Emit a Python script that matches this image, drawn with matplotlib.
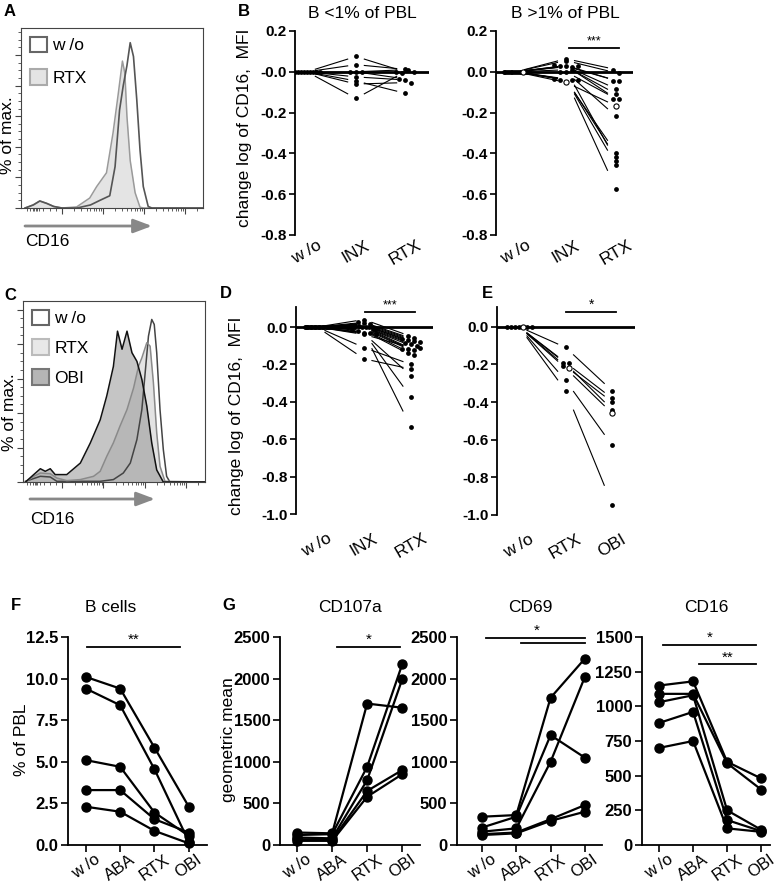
import numpy as np
import matplotlib
matplotlib.use("Agg")
import matplotlib.pyplot as plt
from matplotlib.patches import Patch

plt.rcParams['font.family'] = ['Liberation Sans', 'DejaVu Sans']

W, H = 778, 884

# ---------------- data ----------------
# A: CD16 histograms (x in decades, y in % of max)
a_wo_x = [0.1, 0.3, 0.46, 0.63, 0.8, 1.0, 1.37, 1.7, 1.93, 2.17, 2.30, 2.41, 2.50, 2.59, 2.67, 2.75, 2.83, 2.91, 2.99, 3.11, 3.2, 4.45]
a_wo_h = [0, 2, 4.6, 3, 1, 0, 0, 2, 5, 8, 27, 64, 80, 93, 108, 99, 71, 38, 14, 1, 0, 0]
a_rtx_x = [0.1, 0.3, 0.46, 0.63, 0.8, 1.0, 1.36, 1.68, 1.85, 2.09, 2.25, 2.37, 2.48, 2.54, 2.59, 2.67, 2.79, 2.91, 3.0, 4.45]
a_rtx_h = [0, 2, 4.5, 3, 1, 0, 0.7, 6.5, 14, 23, 49, 73, 96, 88, 60, 31, 10, 0.5, 0, 0]

# C: CD16 histograms
c_wo_x = [0.11, 0.47, 0.71, 0.87, 1.92, 2.24, 2.48, 2.65, 2.81, 2.93, 3.01, 3.09, 3.17, 3.23, 3.29, 3.37, 3.45, 3.53, 3.61, 4.46]
c_wo_h = [0.4, 3.3, 2.9, 0.4, 0.4, 1.4, 5.2, 11, 24.6, 42, 63.3, 84.6, 94.3, 91.4, 75, 42, 18.8, 3.3, 0, 0]
c_rtx_x = [0.11, 0.31, 0.47, 0.71, 0.87, 1.11, 1.44, 1.76, 1.92, 2.08, 2.24, 2.40, 2.57, 2.73, 2.85, 2.93, 3.05, 3.13, 3.21, 3.29, 3.37, 3.49, 4.46]
c_rtx_h = [0, 3.3, 5.2, 4.8, 2.3, 0.8, 1.4, 3.3, 6.2, 14.9, 22.7, 32.4, 42, 54.6, 67.2, 72, 80.8, 78.8, 57.5, 28.5, 9.1, 0.4, 0]
c_obi_x = [0.11, 0.31, 0.47, 0.59, 0.71, 0.83, 1.11, 1.44, 1.68, 1.92, 2.08, 2.24, 2.34, 2.45, 2.57, 2.69, 2.81, 2.93, 3.05, 3.17, 3.29, 3.45, 4.46]
c_obi_h = [0, 4.3, 7.7, 6.2, 7.7, 4.3, 4.3, 11, 22.6, 36, 50, 67, 87.5, 77, 87.5, 75, 70, 59.5, 44, 22.6, 7, 0, 0]

# B: change log of CD16 MFI (paired donors)
b1_labels = ['w /o', 'INX', 'RTX']
b1_wo = [0, 0, 0, 0, 0, 0, 0, 0, 0]
b1_inx = [0.075, 0.035, 0.0, 0.0, 0.0, -0.025, -0.045, -0.06, -0.13]
b1_rtx = [0.0, 0.012, -0.005, 0.01, -0.035, -0.04, -0.105, -0.053, 0.0]

b2_wo = [0] * 15
b2_inx = [0.064, 0.055, 0.031, 0.027, 0.027, 0.025, 0.03, 0.0, 0.0, -0.035, -0.038, -0.052, -0.038, -0.042, 0.01]
b2_rtx = [0.011, -0.005, -0.043, -0.083, -0.043, -0.108, -0.132, -0.132, -0.218, -0.419, -0.455, -0.167, -0.574, -0.396, -0.435]
b2_open = 11

# D
d_wo = [0] * 20
d_inx = [0.04, 0.025, 0.02, 0.015, 0.01, 0.01, 0.005, 0.0, 0.0, 0.0, -0.005, -0.01, -0.015, -0.02, -0.03, -0.03, -0.035, -0.04, -0.11, -0.17]
d_rtx = [-0.05, -0.06, -0.065, -0.07, -0.075, -0.08, -0.085, -0.09, -0.1, -0.115, -0.12, -0.125, -0.14, -0.15, -0.375, -0.535, -0.26, -0.11, -0.2, -0.225]

# E
e_labels = ['w /o', 'RTX', 'OBI']
e_wo = [0] * 7
e_rtx = [-0.11, -0.19, -0.195, -0.21, -0.22, -0.285, -0.34]
e_obi = [-0.34, -0.38, -0.44, -0.40, -0.46, -0.63, -0.945]
e_open = 4

# F / G
cats = ['w /o', 'ABA', 'RTX', 'OBI']
f_bcells = [[10.1, 9.4, 5.85, 2.3],
            [9.4, 8.4, 4.55, 0.2],
            [5.1, 4.7, 1.95, 0.55],
            [3.3, 3.3, 1.55, 0.75],
            [2.3, 2.0, 0.85, 0.1]]
g_cd107a = [[150, 140, 1700, 1650],
            [120, 130, 940, 2170],
            [90, 80, 780, 1990],
            [70, 60, 650, 900],
            [50, 50, 580, 850]]
g_cd69 = [[340, 360, 1770, 2240],
          [210, 340, 1320, 1050],
          [160, 200, 1000, 2020],
          [130, 150, 310, 480],
          [120, 140, 290, 400]]
g_cd16 = [[1150, 1180, 600, 480],
          [1090, 1090, 590, 400],
          [1030, 1080, 250, 110],
          [880, 960, 180, 100],
          [700, 750, 120, 95]]

# ---------------- helpers ----------------
fig = plt.figure(figsize=(W / 100, H / 100), dpi=100)


def px_axes(left, top, right, bottom):
    return fig.add_axes([left / W, 1 - bottom / H, (right - left) / W, (bottom - top) / H])


def ftext(x, y, s, **kw):
    kw.setdefault('va', 'center')
    kw.setdefault('ha', 'center')
    fig.text(x / W, 1 - y / H, s, **kw)


def histo_axes(ax, xlim, ylim):
    ax.set_xlim(*xlim)
    ax.set_ylim(*ylim)
    for s in ax.spines.values():
        s.set_linewidth(0.8)
        s.set_color('#444444')
    ax.set_yticks(np.arange(0, 101, 20))
    ax.set_yticks(np.arange(0, ylim[1], 5), minor=True)
    ax.set_xticks([1, 2, 3, 4])
    minor = [0.15, 0.22, 0.3, 0.33, 0.36, 0.4, 0.45, 0.55, 0.7, 0.85]
    for k in [1, 2, 3, 4]:
        minor += [k + np.log10(m) for m in range(2, 10) if k + np.log10(m) < xlim[1]]
    ax.set_xticks(minor, minor=True)
    ax.tick_params(which='major', direction='out', length=4, width=0.8, color='#444444',
                   labelleft=False, labelbottom=False)
    ax.tick_params(which='minor', direction='out', length=2, width=0.6, color='#444444')


def swarm(vals, row_h, step, max_w):
    vals = np.asarray(vals, dtype=float)
    rows = np.round(vals / row_h).astype(int)
    offs = np.zeros(len(vals))
    for r in np.unique(rows):
        idx = np.where(rows == r)[0]
        n = len(idx)
        if n > 1:
            s = min(step, max_w / (n - 1))
            offs[idx] = (np.arange(n) - (n - 1) / 2) * s
    return offs


def dot_panel(ax, groups, labels, xpx, ypx, xlim, ylim, yticks, ytl, open_idx=None, pad=2):
    trim = 0.17
    n = len(groups[0])
    for g in range(len(groups) - 1):
        for i in range(n):
            a, b = groups[g][i], groups[g + 1][i]
            ax.plot([g + trim, g + 1 - trim], [a + trim * (b - a), b - trim * (b - a)],
                    color='black', lw=0.8, zorder=2)
    ax.axhline(0, color='black', lw=2, zorder=1)
    for g, vals in enumerate(groups):
        offs = swarm(vals, 4.5 / ypx, 6 / xpx, 25 / xpx)
        xs = g + offs
        for i in range(n):
            if i == open_idx:
                ax.scatter(xs[i], vals[i], s=14, facecolor='white', edgecolor='black', lw=0.8, zorder=4)
            else:
                ax.scatter(xs[i], vals[i], s=12, color='black', lw=0, zorder=3)
    ax.set_xlim(*xlim)
    ax.set_ylim(*ylim)
    for s in ['top', 'right', 'bottom']:
        ax.spines[s].set_visible(False)
    ax.spines['left'].set_linewidth(1.3)
    ax.set_yticks(yticks)
    ax.set_yticklabels(ytl, fontweight='bold', fontsize=11)
    ax.tick_params(axis='y', direction='out', length=4, width=1.2, pad=2)
    ax.set_xticks(range(len(labels)))
    ax.set_xticklabels(labels, rotation=30, fontsize=12.5, ha='center')
    ax.tick_params(axis='x', length=0, pad=pad)


def sig(ax, x0, x1, y, s, fs=10):
    ax.plot([x0, x1], [y, y], color='black', lw=1.3, clip_on=False, zorder=5)
    ax.text((x0 + x1) / 2, y, s, ha='center', va='bottom', fontsize=fs, clip_on=False)


def line_panel(ax, donors, xlim, ylim, yticks, ytl):
    for d in donors:
        ax.plot(range(4), d, color='black', lw=1.6, marker='o', ms=6.5, zorder=3, clip_on=False)
    ax.set_xlim(*xlim)
    ax.set_ylim(*ylim)
    for s in ['top', 'right']:
        ax.spines[s].set_visible(False)
    for s in ['left', 'bottom']:
        ax.spines[s].set_linewidth(1.3)
    ax.set_yticks(yticks)
    ax.set_yticklabels(ytl, fontweight='bold', fontsize=12)
    ax.set_xticks(range(4))
    ax.set_xticklabels(cats, rotation=35, fontsize=12, ha='center')
    ax.tick_params(axis='y', direction='out', length=5, width=1.2, pad=2)
    ax.tick_params(axis='x', direction='out', length=5, width=1.2, pad=0)


# ---------------- A ----------------
ax_a = px_axes(21, 28, 203, 208)
ax_a.fill_between(a_wo_x, a_wo_h, color='white', lw=0)
ax_a.fill_between(a_rtx_x, a_rtx_h, color='#e4e4e4', lw=0)
ax_a.plot(a_rtx_x, a_rtx_h, color='#9a9a9a', lw=1.1)
ax_a.plot(a_wo_x, a_wo_h, color='#555555', lw=1.2)
histo_axes(ax_a, (0, 4.45), (0, 117.6))
ax_a.legend(handles=[Patch(facecolor='white', edgecolor='#666666', lw=1.5, label='w /o'),
                     Patch(facecolor='#e4e4e4', edgecolor='#aaaaaa', lw=1.5, label='RTX')],
            loc='upper left', frameon=False, fontsize=12.5, handlelength=1.0, handleheight=1.0,
            labelspacing=0.9, handletextpad=0.3, borderaxespad=0.3, borderpad=0.2)
ax_a.annotate('', xy=(152, H - 226), xytext=(25, H - 226), xycoords='figure pixels',
              arrowprops=dict(arrowstyle='-|>,head_length=0.8,head_width=0.3', color='#888888',
                              lw=2, mutation_scale=14, shrinkA=0, shrinkB=0))
ftext(25, 242, 'CD16', ha='left', fontsize=12.5)
ftext(8, 135, '% of max.', rotation=90, fontsize=12.5)
ftext(10, 12, 'A', fontsize=12, fontweight='bold')

# ---------------- C ----------------
ax_c = px_axes(23, 301, 205, 482)
ax_c.fill_between(c_rtx_x, c_rtx_h, color='#c8c8c8', alpha=0.5, lw=0)
ax_c.fill_between(c_obi_x, c_obi_h, color='#8c8c8c', alpha=0.5, lw=0)
ax_c.plot(c_wo_x, c_wo_h, color='#444444', lw=1.1)
ax_c.plot(c_rtx_x, c_rtx_h, color='#8a8a8a', lw=1.1)
ax_c.plot(c_obi_x, c_obi_h, color='#111111', lw=1.1)
histo_axes(ax_c, (0.05, 4.46), (0, 105))
ax_c.legend(handles=[Patch(facecolor='white', edgecolor='#666666', lw=1.5, label='w /o'),
                     Patch(facecolor='#e8e8e8', edgecolor='#bbbbbb', lw=1.5, label='RTX'),
                     Patch(facecolor='#b5b5b5', edgecolor='#777777', lw=1.5, label='OBI')],
            loc='upper left', frameon=False, fontsize=12.5, handlelength=1.0, handleheight=1.0,
            labelspacing=0.75, handletextpad=0.3, borderaxespad=0.3, borderpad=0.2)
ax_c.annotate('', xy=(155, H - 499), xytext=(30, H - 499), xycoords='figure pixels',
              arrowprops=dict(arrowstyle='-|>,head_length=0.8,head_width=0.3', color='#888888',
                              lw=2, mutation_scale=14, shrinkA=0, shrinkB=0))
ftext(30, 519, 'CD16', ha='left', fontsize=12.5)
ftext(10, 412, '% of max.', rotation=90, fontsize=12.5)
ftext(10, 296, 'C', fontsize=12, fontweight='bold')

# ---------------- B ----------------
ytb = [0.2, 0.0, -0.2, -0.4, -0.6, -0.8]
ax_b1 = px_axes(295, 31, 429, 235)
dot_panel(ax_b1, [b1_wo, b1_inx, b1_rtx], b1_labels, 49, 204, (-0.245, 2.49), (-0.8, 0.2), ytb,
          ['0.2', '-0.0', '-0.2', '-0.4', '-0.6', '-0.8'], pad=2)
ax_b2 = px_axes(496, 31, 633, 235)
dot_panel(ax_b2, [b2_wo, b2_inx, b2_rtx], b1_labels, 50, 204, (-0.4, 2.34), (-0.8, 0.2), ytb,
          ['0.2', '0.0', '-0.2', '-0.4', '-0.6', '-0.8'], open_idx=b2_open, pad=2)
sig(ax_b2, 1.06, 2.06, 0.118, '***', fs=9)
ftext(362, 13, 'B <1% of PBL', fontsize=12.5)
ftext(565, 13, 'B >1% of PBL', fontsize=12.5)
ftext(245, 128, 'change log of CD16,  MFI', rotation=90, fontsize=12.5)
ftext(244, 12, 'B', fontsize=12, fontweight='bold')

# ---------------- D / E ----------------
ytd = [0.0, -0.2, -0.4, -0.6, -0.8, -1.0]
ytdl = ['0.0', '-0.2', '-0.4', '-0.6', '-0.8', '-1.0']
ax_d = px_axes(296, 307, 433, 514)
dot_panel(ax_d, [d_wo, d_inx, d_rtx], b1_labels, 47, 187, (-0.447, 2.47), (-1.0, 0.107), ytd, ytdl, pad=12)
sig(ax_d, 1.02, 2.09, 0.082, '***', fs=9)
ax_e = px_axes(497, 307, 635, 515)
dot_panel(ax_e, [e_wo, e_rtx, e_obi], e_labels, 46.5, 188, (-0.473, 2.49), (-1.0, 0.105), ytd, ytdl,
          open_idx=e_open, pad=12)
sig(ax_e, 1.01, 2.09, 0.081, '*', fs=10)
ftext(237, 416, 'change log of CD16,  MFI', rotation=90, fontsize=12.5)
ftext(226, 294, 'D', fontsize=12, fontweight='bold')
ftext(487, 294, 'E', fontsize=12, fontweight='bold')

# ---------------- F ----------------
ax_f = px_axes(68, 637, 207, 845)
line_panel(ax_f, f_bcells, (-0.52, 3.53), (0, 12.5), np.arange(0, 12.6, 2.5),
           ['0.0', '2.5', '5.0', '7.5', '10.0', '12.5'])
sig(ax_f, 0.03, 2.75, 11.9, '**', fs=11)
ftext(111, 607, 'B cells', fontsize=12.5)
ftext(22, 740, '% of PBL', rotation=90, fontsize=12.5)
ftext(16, 605, 'F', fontsize=12, fontweight='bold')

# ---------------- G ----------------
yt25 = [0, 500, 1000, 1500, 2000, 2500]
ax_g1 = px_axes(280, 637, 420, 845)
line_panel(ax_g1, g_cd107a, (-0.49, 3.51), (0, 2500), yt25, [str(v) for v in yt25])
sig(ax_g1, 1.14, 2.94, 2380, '*', fs=11)
ax_g2 = px_axes(457, 637, 602, 845)
line_panel(ax_g2, g_cd69, (-0.73, 3.5), (0, 2500), yt25, [str(v) for v in yt25])
sig(ax_g2, 0.13, 3.0, 2490, '', fs=11)
sig(ax_g2, 1.14, 3.0, 2425, '', fs=11)
ax_g2.text(1.6, 2495, '*', ha='center', va='bottom', fontsize=11, clip_on=False)
yt15 = [0, 250, 500, 750, 1000, 1250, 1500]
ax_g3 = px_axes(642, 637, 770, 845)
line_panel(ax_g3, g_cd16, (-0.5, 3.26), (0, 1500), yt15, [str(v) for v in yt15])
sig(ax_g3, 0.12, 2.85, 1442, '*', fs=11)
sig(ax_g3, 1.18, 2.85, 1303, '**', fs=11)
ftext(350, 607, 'CD107a', fontsize=12.5)
ftext(530, 607, 'CD69', fontsize=12.5)
ftext(706, 607, 'CD16', fontsize=12.5)
ftext(228, 740, 'geometric mean', rotation=90, fontsize=12.5)
ftext(229, 605, 'G', fontsize=12, fontweight='bold')

fig.savefig('out.png', dpi=100)
